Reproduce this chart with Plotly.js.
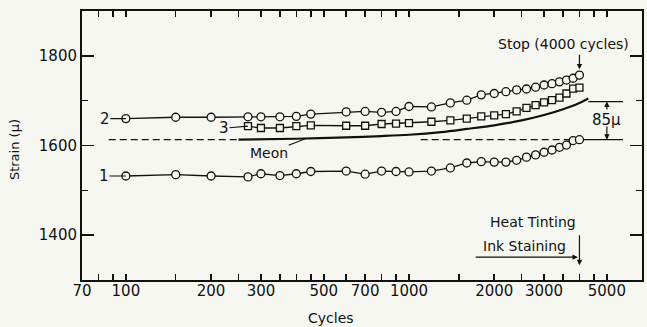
<!DOCTYPE html>
<html>
<head>
<meta charset="utf-8">
<script src="https://cdn.plot.ly/plotly-3.0.1.min.js"></script>
<style>html,body{margin:0;padding:0;background:#f7f7f2}</style>
</head>
<body>
<div id="chart" style="width:647px;height:327px"></div>
<script>
// ---- data ----
const cycles = [100,150,200,270,300,350,400,450,600,700,800,900,1000,1200,1400,1600,1800,2000,2200,2400,2600,2800,3000,3200,3400,3600,3800,4000];
const strain1 = [1532,1535,1532,1530,1537,1533,1537,1542,1543,1536,1543,1542,1541,1543,1550,1561,1564,1563,1563,1567,1574,1579,1585,1590,1596,1601,1611,1613];
const strain2 = [1660,1663,1663,1664,1664,1664,1665,1670,1675,1676,1674,1676,1687,1686,1695,1701,1713,1716,1720,1724,1726,1730,1735,1738,1742,1746,1750,1757];
const cycles3 = [270,300,350,400,450,600,700,800,900,1000,1200,1400,1600,1800,2000,2200,2400,2600,2800,3000,3200,3400,3600,3800,4000];
const strain3 = [1643,1639,1639,1643,1645,1644,1644,1648,1649,1650,1653,1656,1660,1665,1667,1670,1676,1684,1690,1696,1701,1707,1716,1727,1729];
const meonCycles = [250,400,600,800,1000,1300,1600,2000,2500,3000,3500,4000,4300];
const meonStrain = [1613,1615,1618,1621,1624,1630,1637,1645,1656,1668,1681,1695,1705];
const refCycles = [87,250,null,1100,3700];
const refStrain = [1613,1613,null,1613,1613];
const dimLowCycles = [4000,5700], dimLow = 1613;
const dimHighCycles = [4300,5700], dimHigh = 1698;
const dimCycle = 5000;
const stopCycle = 4000;
const heatCycle = 4000;
const inkCycle = 3700;
const xTickVals = [70,80,90,100,150,200,250,300,350,400,450,500,600,700,800,900,1000,1500,2000,2500,3000,3500,4000,4500,5000];
const xTickText = ['70','','','100','','200','','300','','','','500','','700','','','1000','','2000','','3000','','','','5000'];
const xMajorVals = [100,1000];

const BG = '#f7f7f2', INK = '#111111', FONT = 'DejaVu Sans';
const xr = [Math.log10(70), 3.823];
const PLOT_H = 327 - 11 - 47;

const traces = [
  {x: refCycles, y: refStrain, mode:'lines', line:{color:INK, width:1.3, dash:'7px,4px'}, connectgaps:false},
  {x: dimLowCycles, y: [dimLow, dimLow], mode:'lines', line:{color:INK, width:1.3}},
  {x: dimHighCycles, y: [dimHigh, dimHigh], mode:'lines', line:{color:INK, width:1.3}},
  {x: meonCycles, y: meonStrain, mode:'lines', line:{color:INK, width:2.2, shape:'spline', smoothing:0.8}},
  {x: cycles, y: strain2, mode:'lines+markers', line:{color:INK, width:1.3},
   marker:{symbol:'circle', size:8, color:BG, line:{color:INK, width:1.3}}},
  {x: cycles3, y: strain3, mode:'lines+markers', line:{color:INK, width:1.3},
   marker:{symbol:'square', size:7, color:BG, line:{color:INK, width:1.3}}},
  {x: cycles, y: strain1, mode:'lines+markers', line:{color:INK, width:1.3},
   marker:{symbol:'circle', size:8, color:BG, line:{color:INK, width:1.3}}}
];

const tf = {family:FONT, size:15, color:INK};
const af = {family:FONT, size:14, color:INK};
function arrow(x, y, ax, ay, head){
  return {x:x, y:y, ax:ax, ay:ay, axref:'x', ayref:'y', xref:'x', yref:'y', text:'', showarrow:true,
          arrowhead: head, arrowsize:0.9, arrowwidth:1.2, arrowcolor:INK, standoff:0, startstandoff:0};
}
const annotations = [
  {x:Math.log10(cycles[0]), y:strain2[0], ax:-21, ay:0, text:'2', showarrow:true, arrowhead:0, arrowwidth:1.2, arrowcolor:INK, font:tf, borderpad:0},
  {x:Math.log10(cycles[0]), y:strain1[0], ax:-22, ay:0, text:'1', showarrow:true, arrowhead:0, arrowwidth:1.2, arrowcolor:INK, font:tf, borderpad:0},
  {x:Math.log10(cycles3[0]), y:strain3[0], ax:-24, ay:2, text:'3', showarrow:true, arrowhead:0, arrowwidth:1.2, arrowcolor:INK, font:tf, borderpad:0},
  {x:Math.log10(430), y:1615, ax:-36, ay:14, text:'Meon', showarrow:true, arrowhead:0, arrowwidth:1.2, arrowcolor:INK, font:af, borderpad:0},
  {x:Math.log10(dimCycle), y:dimHigh, axref:'x', ayref:'y', ax:Math.log10(dimCycle), ay:1657, text:'85μ', showarrow:true,
   arrowhead:2, arrowsize:0.9, arrowwidth:1.2, arrowcolor:INK, font:{family:FONT, size:15, color:INK}, borderpad:1, bgcolor:BG},
  arrow(Math.log10(dimCycle), dimLow, Math.log10(dimCycle), 1646, 2),
  {x:Math.log10(3500), y:1826, text:'Stop (4000 cycles)', showarrow:false, font:af},
  arrow(Math.log10(stopCycle), 1770, Math.log10(stopCycle), 1806, 2),
  {x:Math.log10(2740), y:1429, text:'Heat Tinting', showarrow:false, font:af},
  arrow(Math.log10(heatCycle), 1333, Math.log10(heatCycle), 1403, 2),
  {x:Math.log10(2550), y:1376, text:'Ink Staining', showarrow:false, font:af},
  arrow(Math.log10(3950), 1351, Math.log10(1700), 1351, 2),
  {xref:'paper', yref:'paper', x:0.445, y:-0.141, text:'Cycles', showarrow:false, font:af, xanchor:'center', yanchor:'middle'},
  {xref:'paper', yref:'paper', x:-0.1214, y:0.483, text:'Strain (μ)', textangle:-90, showarrow:false, font:{family:FONT, size:13, color:INK}, xanchor:'center', yanchor:'middle'}
];
const shapes = [
  {type:'line', xref:'x', yref:'y', x0:Math.log10(1870), x1:Math.log10(6550), y0:1806, y1:1806, line:{color:INK, width:1.2}},
  {type:'line', xref:'x', yref:'y', x0:Math.log10(1820), x1:Math.log10(heatCycle), y0:1403, y1:1403, line:{color:INK, width:1.2}},
  {type:'line', xref:'x', yref:'y', x0:Math.log10(inkCycle), x1:Math.log10(inkCycle), y0:1300, y1:1351, line:{color:INK, width:1.2}}
];
// taller decade ticks (bottom and top)
xMajorVals.forEach(v => {
  shapes.push({type:'line', xref:'x', yref:'paper', x0:Math.log10(v), x1:Math.log10(v), y0:0, y1:11/PLOT_H, line:{color:INK, width:1.5}});
  shapes.push({type:'line', xref:'x', yref:'paper', x0:Math.log10(v), x1:Math.log10(v), y0:1, y1:1-9/PLOT_H, line:{color:INK, width:1.5}});
});

const layout = {
  width:647, height:327,
  margin:{l:82, r:5, t:11, b:47},
  paper_bgcolor:BG, plot_bgcolor:BG,
  showlegend:false,
  font:{family:FONT, color:INK},
  xaxis:{type:'log', range:xr, tickmode:'array', tickvals:xTickVals, ticktext:xTickText,
         ticks:'inside', ticklen:6, tickwidth:1.5, tickcolor:INK, showline:true, linewidth:2, linecolor:INK,
         mirror:'ticks', showgrid:false, zeroline:false, tickfont:tf, ticklabelstandoff:-4},
  yaxis:{range:[1300,1900], tickmode:'linear', tick0:1400, dtick:200, ticks:'inside', ticklen:12, tickwidth:1.5,
         tickcolor:INK, showline:true, linewidth:2, linecolor:INK, mirror:'ticks', showgrid:false, zeroline:false,
         tickfont:tf, minor:{dtick:100, tick0:1300, ticks:'inside', ticklen:6, tickwidth:1.5, tickcolor:INK, showgrid:false}},
  annotations:annotations,
  shapes:shapes
};
Plotly.newPlot('chart', traces, layout, {staticPlot:true, displayModeBar:false});
</script>
</body>
</html>
